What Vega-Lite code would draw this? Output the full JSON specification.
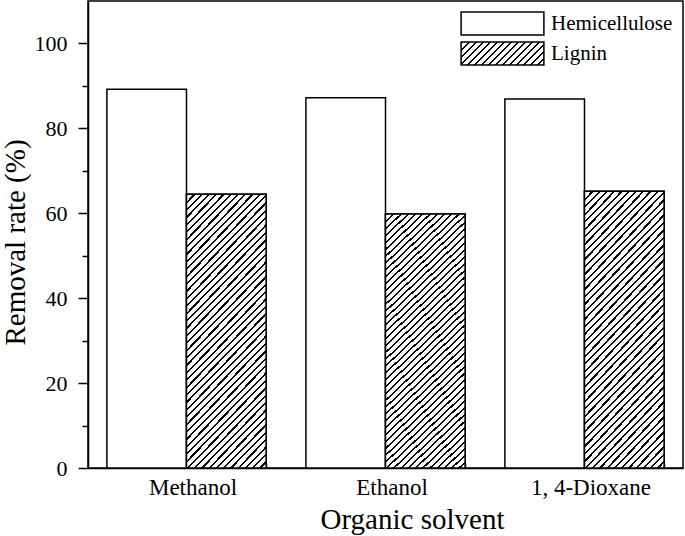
{
  "$schema": "https://vega.github.io/schema/vega-lite/v6.json",
  "autosize": "none",
  "width": 595,
  "height": 467,
  "padding": {"left": 88, "top": 1, "right": 2, "bottom": 68},
  "background": "white",
  "config": {
    "font": "Liberation Serif",
    "view": {"stroke": "black", "strokeWidth": 1.5},
    "axis": {"domainColor": "black", "domainWidth": 1.5, "tickColor": "black", "tickWidth": 1.5, "grid": false, "labelColor": "black", "titleColor": "black", "labelFont": "Liberation Serif", "titleFont": "Liberation Serif", "titleFontWeight": "normal"},
    "legend": {"labelFont": "Liberation Serif"}
  },
  "data": {
    "values": [
      {"solvent": "Methanol", "type": "Hemicellulose", "rate": 89.2},
      {"solvent": "Methanol", "type": "Lignin", "rate": 64.5},
      {"solvent": "Ethanol", "type": "Hemicellulose", "rate": 87.2},
      {"solvent": "Ethanol", "type": "Lignin", "rate": 59.8},
      {"solvent": "1, 4-Dioxane", "type": "Hemicellulose", "rate": 86.9},
      {"solvent": "1, 4-Dioxane", "type": "Lignin", "rate": 65.2}
    ]
  },
  "resolve": {"axis": {"x": "independent", "y": "independent"}},
  "layer": [
    {
      "mark": {"type": "bar", "strokeWidth": 1.5},
      "encoding": {
        "x": {
          "field": "solvent",
          "type": "nominal",
          "sort": ["Methanol", "Ethanol", "1, 4-Dioxane"],
          "scale": {"paddingInner": 0.2, "paddingOuter": 0.095},
          "axis": {"orient": "bottom", "title": null, "labels": false, "ticks": true, "tickSize": -5, "tickBand": "extent", "domain": true}
        },
        "xOffset": {"field": "type", "type": "nominal", "scale": {"paddingInner": 0, "paddingOuter": 0}},
        "y": {
          "field": "rate",
          "type": "quantitative",
          "scale": {"domain": [0, 110], "nice": false, "zero": true},
          "axis": {"orient": "left", "title": "Removal rate (%)", "titleFontSize": 29, "titlePadding": 4, "titleY": 241, "values": [0, 20, 40, 60, 80, 100], "tickSize": 10, "labelFontSize": 22, "labelPadding": 11}
        },
        "fill": {
          "field": "solvent",
          "type": "nominal",
          "scale": {"domain": ["Methanol", "Ethanol", "1, 4-Dioxane"], "range": ["white", "white", "white"]},
          "legend": null
        },
        "stroke": {
          "field": "type",
          "type": "nominal",
          "scale": {"domain": ["Hemicellulose", "Lignin"], "range": ["black", "black"]},
          "legend": {
            "title": null,
            "orient": "top-right",
            "offset": 10,
            "padding": 0,
            "labelFontSize": 21,
            "labelColor": "black",
            "labelOffset": 36,
            "rowPadding": 1,
            "symbolType": "M-3.6,-1L3.6,-1L3.6,1L-3.6,1Z",
            "symbolSize": 529,
            "symbolStrokeWidth": 1.5,
            "symbolStrokeColor": "black",
            "symbolFillColor": {"expr": "(datum.value === 'Lignin' || datum.label === 'Lignin') ? {gradient: 'linear', x1: 0, y1: 0, x2: 1.186, y2: 0.329, stops: [{offset: 0, color: '#000'}, {offset: 0.02, color: '#000'}, {offset: 0.02, color: '#fff'}, {offset: 0.0667, color: '#fff'}, {offset: 0.0667, color: '#000'}, {offset: 0.0867, color: '#000'}, {offset: 0.0867, color: '#fff'}, {offset: 0.1333, color: '#fff'}, {offset: 0.1333, color: '#000'}, {offset: 0.1533, color: '#000'}, {offset: 0.1533, color: '#fff'}, {offset: 0.2, color: '#fff'}, {offset: 0.2, color: '#000'}, {offset: 0.22, color: '#000'}, {offset: 0.22, color: '#fff'}, {offset: 0.2667, color: '#fff'}, {offset: 0.2667, color: '#000'}, {offset: 0.2867, color: '#000'}, {offset: 0.2867, color: '#fff'}, {offset: 0.3333, color: '#fff'}, {offset: 0.3333, color: '#000'}, {offset: 0.3533, color: '#000'}, {offset: 0.3533, color: '#fff'}, {offset: 0.4, color: '#fff'}, {offset: 0.4, color: '#000'}, {offset: 0.42, color: '#000'}, {offset: 0.42, color: '#fff'}, {offset: 0.4667, color: '#fff'}, {offset: 0.4667, color: '#000'}, {offset: 0.4867, color: '#000'}, {offset: 0.4867, color: '#fff'}, {offset: 0.5333, color: '#fff'}, {offset: 0.5333, color: '#000'}, {offset: 0.5533, color: '#000'}, {offset: 0.5533, color: '#fff'}, {offset: 0.6, color: '#fff'}, {offset: 0.6, color: '#000'}, {offset: 0.62, color: '#000'}, {offset: 0.62, color: '#fff'}, {offset: 0.6667, color: '#fff'}, {offset: 0.6667, color: '#000'}, {offset: 0.6867, color: '#000'}, {offset: 0.6867, color: '#fff'}, {offset: 0.7333, color: '#fff'}, {offset: 0.7333, color: '#000'}, {offset: 0.7533, color: '#000'}, {offset: 0.7533, color: '#fff'}, {offset: 0.8, color: '#fff'}, {offset: 0.8, color: '#000'}, {offset: 0.82, color: '#000'}, {offset: 0.82, color: '#fff'}, {offset: 0.8667, color: '#fff'}, {offset: 0.8667, color: '#000'}, {offset: 0.8867, color: '#000'}, {offset: 0.8867, color: '#fff'}, {offset: 0.9333, color: '#fff'}, {offset: 0.9333, color: '#000'}, {offset: 0.9533, color: '#000'}, {offset: 0.9533, color: '#fff'}, {offset: 1, color: '#fff'}]} : 'white'"}
          }
        }
      }
    },
    {
      "transform": [{"filter": "datum.type === 'Lignin'"}],
      "mark": {"type": "bar", "strokeWidth": 1.5, "stroke": "black", "fill": {"gradient": "linear", "x1": 0, "y1": 0, "x2": 0.354, "y2": 1.192, "stops": [
          {"offset": 0, "color": "#000"}, {"offset": 0.0063, "color": "#000"}, {"offset": 0.0063, "color": "#fff"}, {"offset": 0.0208, "color": "#fff"},
          {"offset": 0.0208, "color": "#000"}, {"offset": 0.0271, "color": "#000"}, {"offset": 0.0271, "color": "#fff"}, {"offset": 0.0417, "color": "#fff"},
          {"offset": 0.0417, "color": "#000"}, {"offset": 0.048, "color": "#000"}, {"offset": 0.048, "color": "#fff"}, {"offset": 0.0625, "color": "#fff"},
          {"offset": 0.0625, "color": "#000"}, {"offset": 0.0688, "color": "#000"}, {"offset": 0.0688, "color": "#fff"}, {"offset": 0.0833, "color": "#fff"},
          {"offset": 0.0833, "color": "#000"}, {"offset": 0.0896, "color": "#000"}, {"offset": 0.0896, "color": "#fff"}, {"offset": 0.1042, "color": "#fff"},
          {"offset": 0.1042, "color": "#000"}, {"offset": 0.1105, "color": "#000"}, {"offset": 0.1105, "color": "#fff"}, {"offset": 0.125, "color": "#fff"},
          {"offset": 0.125, "color": "#000"}, {"offset": 0.1313, "color": "#000"}, {"offset": 0.1313, "color": "#fff"}, {"offset": 0.1458, "color": "#fff"},
          {"offset": 0.1458, "color": "#000"}, {"offset": 0.1521, "color": "#000"}, {"offset": 0.1521, "color": "#fff"}, {"offset": 0.1667, "color": "#fff"},
          {"offset": 0.1667, "color": "#000"}, {"offset": 0.173, "color": "#000"}, {"offset": 0.173, "color": "#fff"}, {"offset": 0.1875, "color": "#fff"},
          {"offset": 0.1875, "color": "#000"}, {"offset": 0.1938, "color": "#000"}, {"offset": 0.1938, "color": "#fff"}, {"offset": 0.2083, "color": "#fff"},
          {"offset": 0.2083, "color": "#000"}, {"offset": 0.2146, "color": "#000"}, {"offset": 0.2146, "color": "#fff"}, {"offset": 0.2292, "color": "#fff"},
          {"offset": 0.2292, "color": "#000"}, {"offset": 0.2355, "color": "#000"}, {"offset": 0.2355, "color": "#fff"}, {"offset": 0.25, "color": "#fff"},
          {"offset": 0.25, "color": "#000"}, {"offset": 0.2563, "color": "#000"}, {"offset": 0.2563, "color": "#fff"}, {"offset": 0.2708, "color": "#fff"},
          {"offset": 0.2708, "color": "#000"}, {"offset": 0.2771, "color": "#000"}, {"offset": 0.2771, "color": "#fff"}, {"offset": 0.2917, "color": "#fff"},
          {"offset": 0.2917, "color": "#000"}, {"offset": 0.298, "color": "#000"}, {"offset": 0.298, "color": "#fff"}, {"offset": 0.3125, "color": "#fff"},
          {"offset": 0.3125, "color": "#000"}, {"offset": 0.3188, "color": "#000"}, {"offset": 0.3188, "color": "#fff"}, {"offset": 0.3333, "color": "#fff"},
          {"offset": 0.3333, "color": "#000"}, {"offset": 0.3396, "color": "#000"}, {"offset": 0.3396, "color": "#fff"}, {"offset": 0.3542, "color": "#fff"},
          {"offset": 0.3542, "color": "#000"}, {"offset": 0.3605, "color": "#000"}, {"offset": 0.3605, "color": "#fff"}, {"offset": 0.375, "color": "#fff"},
          {"offset": 0.375, "color": "#000"}, {"offset": 0.3813, "color": "#000"}, {"offset": 0.3813, "color": "#fff"}, {"offset": 0.3958, "color": "#fff"},
          {"offset": 0.3958, "color": "#000"}, {"offset": 0.4021, "color": "#000"}, {"offset": 0.4021, "color": "#fff"}, {"offset": 0.4167, "color": "#fff"},
          {"offset": 0.4167, "color": "#000"}, {"offset": 0.423, "color": "#000"}, {"offset": 0.423, "color": "#fff"}, {"offset": 0.4375, "color": "#fff"},
          {"offset": 0.4375, "color": "#000"}, {"offset": 0.4438, "color": "#000"}, {"offset": 0.4438, "color": "#fff"}, {"offset": 0.4583, "color": "#fff"},
          {"offset": 0.4583, "color": "#000"}, {"offset": 0.4646, "color": "#000"}, {"offset": 0.4646, "color": "#fff"}, {"offset": 0.4792, "color": "#fff"},
          {"offset": 0.4792, "color": "#000"}, {"offset": 0.4855, "color": "#000"}, {"offset": 0.4855, "color": "#fff"}, {"offset": 0.5, "color": "#fff"},
          {"offset": 0.5, "color": "#000"}, {"offset": 0.5063, "color": "#000"}, {"offset": 0.5063, "color": "#fff"}, {"offset": 0.5208, "color": "#fff"},
          {"offset": 0.5208, "color": "#000"}, {"offset": 0.5271, "color": "#000"}, {"offset": 0.5271, "color": "#fff"}, {"offset": 0.5417, "color": "#fff"},
          {"offset": 0.5417, "color": "#000"}, {"offset": 0.548, "color": "#000"}, {"offset": 0.548, "color": "#fff"}, {"offset": 0.5625, "color": "#fff"},
          {"offset": 0.5625, "color": "#000"}, {"offset": 0.5688, "color": "#000"}, {"offset": 0.5688, "color": "#fff"}, {"offset": 0.5833, "color": "#fff"},
          {"offset": 0.5833, "color": "#000"}, {"offset": 0.5896, "color": "#000"}, {"offset": 0.5896, "color": "#fff"}, {"offset": 0.6042, "color": "#fff"},
          {"offset": 0.6042, "color": "#000"}, {"offset": 0.6105, "color": "#000"}, {"offset": 0.6105, "color": "#fff"}, {"offset": 0.625, "color": "#fff"},
          {"offset": 0.625, "color": "#000"}, {"offset": 0.6313, "color": "#000"}, {"offset": 0.6313, "color": "#fff"}, {"offset": 0.6458, "color": "#fff"},
          {"offset": 0.6458, "color": "#000"}, {"offset": 0.6521, "color": "#000"}, {"offset": 0.6521, "color": "#fff"}, {"offset": 0.6667, "color": "#fff"},
          {"offset": 0.6667, "color": "#000"}, {"offset": 0.673, "color": "#000"}, {"offset": 0.673, "color": "#fff"}, {"offset": 0.6875, "color": "#fff"},
          {"offset": 0.6875, "color": "#000"}, {"offset": 0.6938, "color": "#000"}, {"offset": 0.6938, "color": "#fff"}, {"offset": 0.7083, "color": "#fff"},
          {"offset": 0.7083, "color": "#000"}, {"offset": 0.7146, "color": "#000"}, {"offset": 0.7146, "color": "#fff"}, {"offset": 0.7292, "color": "#fff"},
          {"offset": 0.7292, "color": "#000"}, {"offset": 0.7355, "color": "#000"}, {"offset": 0.7355, "color": "#fff"}, {"offset": 0.75, "color": "#fff"},
          {"offset": 0.75, "color": "#000"}, {"offset": 0.7563, "color": "#000"}, {"offset": 0.7563, "color": "#fff"}, {"offset": 0.7708, "color": "#fff"},
          {"offset": 0.7708, "color": "#000"}, {"offset": 0.7771, "color": "#000"}, {"offset": 0.7771, "color": "#fff"}, {"offset": 0.7917, "color": "#fff"},
          {"offset": 0.7917, "color": "#000"}, {"offset": 0.798, "color": "#000"}, {"offset": 0.798, "color": "#fff"}, {"offset": 0.8125, "color": "#fff"},
          {"offset": 0.8125, "color": "#000"}, {"offset": 0.8188, "color": "#000"}, {"offset": 0.8188, "color": "#fff"}, {"offset": 0.8333, "color": "#fff"},
          {"offset": 0.8333, "color": "#000"}, {"offset": 0.8396, "color": "#000"}, {"offset": 0.8396, "color": "#fff"}, {"offset": 0.8542, "color": "#fff"},
          {"offset": 0.8542, "color": "#000"}, {"offset": 0.8605, "color": "#000"}, {"offset": 0.8605, "color": "#fff"}, {"offset": 0.875, "color": "#fff"},
          {"offset": 0.875, "color": "#000"}, {"offset": 0.8813, "color": "#000"}, {"offset": 0.8813, "color": "#fff"}, {"offset": 0.8958, "color": "#fff"},
          {"offset": 0.8958, "color": "#000"}, {"offset": 0.9021, "color": "#000"}, {"offset": 0.9021, "color": "#fff"}, {"offset": 0.9167, "color": "#fff"},
          {"offset": 0.9167, "color": "#000"}, {"offset": 0.923, "color": "#000"}, {"offset": 0.923, "color": "#fff"}, {"offset": 0.9375, "color": "#fff"},
          {"offset": 0.9375, "color": "#000"}, {"offset": 0.9438, "color": "#000"}, {"offset": 0.9438, "color": "#fff"}, {"offset": 0.9583, "color": "#fff"},
          {"offset": 0.9583, "color": "#000"}, {"offset": 0.9646, "color": "#000"}, {"offset": 0.9646, "color": "#fff"}, {"offset": 0.9792, "color": "#fff"},
          {"offset": 0.9792, "color": "#000"}, {"offset": 0.9855, "color": "#000"}, {"offset": 0.9855, "color": "#fff"}, {"offset": 1, "color": "#fff"}
        ]}},
      "encoding": {
        "x": {
          "field": "solvent",
          "type": "nominal",
          "sort": ["Methanol", "Ethanol", "1, 4-Dioxane"],
          "axis": {"orient": "bottom", "title": "Organic solvent", "titleFontSize": 29, "titlePadding": 6, "titleX": 324, "ticks": false, "tickSize": 0, "domain": false, "labelAngle": 0, "labelFontSize": 23, "labelPadding": 8, "labelOffset": 6.5}
        },
        "xOffset": {"field": "type", "type": "nominal"},
        "y": {
          "field": "rate",
          "type": "quantitative",
          "axis": {"orient": "left", "title": null, "values": [10, 30, 50, 70, 90], "tickSize": 6, "labels": false, "domain": false}
        }
      }
    }
  ]
}
